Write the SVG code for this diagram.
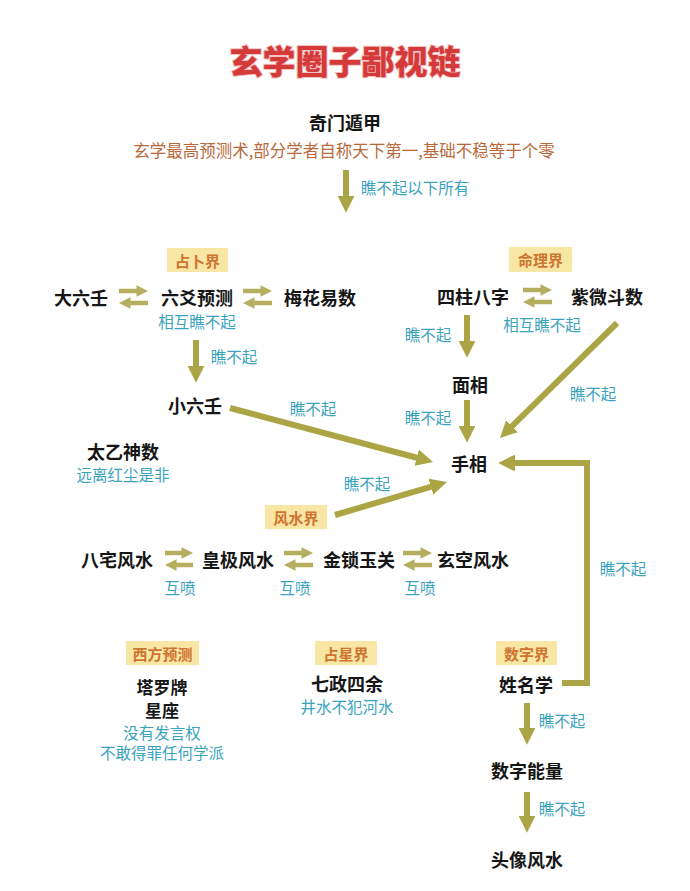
<svg xmlns="http://www.w3.org/2000/svg" width="690" height="891" viewBox="0 0 690 891">
<style>
text{font-family:"Noto Sans CJK SC","Noto Sans",sans-serif;text-anchor:middle;dominant-baseline:central}
.title{font-size:33px;font-weight:900;fill:#d53a3a;stroke:#f2c4c4;stroke-width:2px;paint-order:stroke}
.n{font-size:18px;font-weight:700;fill:#161616}
.s{font-size:17px}
.sub{font-size:16.5px;fill:#b8693a}
.t{font-size:15.5px;fill:#3aa3be}
.c{font-size:15px;font-weight:700;fill:#cf7430}
.box{fill:#f8e6a4}
.a{stroke:#aca546;stroke-width:6;fill:none;marker-end:url(#ah)}
.d{stroke:#b5ae5e;stroke-width:4.5;fill:none;marker-end:url(#dh)}
</style>
<defs>
<marker id="ah" viewBox="0 0 10 10" refX="3" refY="5" markerWidth="2.8" markerHeight="2.8" orient="auto"><path d="M0,0 L10,5 L0,10 z" fill="#aca546"/></marker>
<marker id="dh" viewBox="0 0 10 10" refX="3" refY="5" markerWidth="2.6" markerHeight="2.6" orient="auto"><path d="M0,0 L10,5 L0,10 z" fill="#b5ae5e"/></marker>
</defs>
<rect width="690" height="891" fill="#ffffff"/>
<text class="title" x="345" y="60">玄学圈子鄙视链</text>

<g id="connectors">
<line class="a" x1="346" y1="170" x2="346" y2="201"/>
<line class="a" x1="196" y1="340" x2="196" y2="371"/>
<line class="a" x1="467" y1="315" x2="467" y2="346"/>
<line class="a" x1="467" y1="400" x2="467" y2="431"/>
<line class="a" x1="527" y1="703" x2="527" y2="733"/>
<line class="a" x1="527" y1="792" x2="527" y2="821"/>
<line class="a" x1="230" y1="408" x2="421.6" y2="459"/>
<line class="a" x1="335" y1="515" x2="435.7" y2="485.3"/>
<line class="a" x1="617" y1="323" x2="508.4" y2="429.7"/>
<path class="a" d="M562,683 H587 V463 H510"/>
<line class="d" x1="119" y1="291" x2="140" y2="291"/>
<line class="d" x1="148" y1="303" x2="127" y2="303"/>
<line class="d" x1="243" y1="291" x2="264" y2="291"/>
<line class="d" x1="272" y1="303" x2="251" y2="303"/>
<line class="d" x1="523" y1="290" x2="544" y2="290"/>
<line class="d" x1="552" y1="302" x2="531" y2="302"/>
<line class="d" x1="165" y1="553" x2="185" y2="553"/>
<line class="d" x1="193" y1="565" x2="173" y2="565"/>
<line class="d" x1="284" y1="553" x2="305" y2="553"/>
<line class="d" x1="313" y1="565" x2="292" y2="565"/>
<line class="d" x1="403" y1="553" x2="424" y2="553"/>
<line class="d" x1="432" y1="565" x2="411" y2="565"/>
<text class="t" x="415" y="187">瞧不起以下所有</text>
<text class="t" x="197" y="321">相互瞧不起</text>
<text class="t" x="234" y="356">瞧不起</text>
<text class="t" x="313" y="408">瞧不起</text>
<text class="t" x="542" y="324">相互瞧不起</text>
<text class="t" x="428" y="334">瞧不起</text>
<text class="t" x="428" y="417">瞧不起</text>
<text class="t" x="593" y="393">瞧不起</text>
<text class="t" x="367" y="483">瞧不起</text>
<text class="t" x="623" y="568">瞧不起</text>
<text class="t" x="180" y="587">互喷</text>
<text class="t" x="295" y="587">互喷</text>
<text class="t" x="420" y="587">互喷</text>
<text class="t" x="562" y="720">瞧不起</text>
<text class="t" x="562" y="808">瞧不起</text>
</g>

<g id="qimen"><text class="n" x="345" y="122">奇门遁甲</text><text class="sub" x="344" y="150">玄学最高预测术,部分学者自称天下第一,基础不稳等于个零</text></g>

<g id="cat-zhanbu"><rect class="box" x="167" y="248" width="61" height="24"/><text class="c" x="197.5" y="260">占卜界</text></g>
<g id="cat-mingli"><rect class="box" x="509" y="247" width="63" height="25"/><text class="c" x="540.5" y="259.5">命理界</text></g>
<g id="dalr"><text class="n" x="81" y="297">大六壬</text></g>
<g id="liuyao"><text class="n" x="197" y="297">六爻预测</text></g>
<g id="meihua"><text class="n" x="320" y="297">梅花易数</text></g>
<g id="xiaolr"><text class="n" x="195" y="405">小六壬</text></g>
<g id="taiyi"><text class="n" x="123" y="451">太乙神数</text><text class="t" x="123" y="474">远离红尘是非</text></g>
<g id="sizhu"><text class="n" x="473" y="296">四柱八字</text></g>
<g id="ziwei"><text class="n" x="607" y="296">紫微斗数</text></g>
<g id="mianxiang"><text class="n" x="470" y="384">面相</text></g>
<g id="shouxiang"><text class="n" x="469" y="463">手相</text></g>

<g id="cat-fengshui"><rect class="box" x="265" y="505" width="62" height="24"/><text class="c" x="296" y="517">风水界</text></g>
<g id="bazhai"><text class="n" x="117" y="559">八宅风水</text></g>
<g id="huangji"><text class="n" x="238" y="559">皇极风水</text></g>
<g id="jinsuo"><text class="n" x="359" y="559">金锁玉关</text></g>
<g id="xuankong"><text class="n" x="473" y="559">玄空风水</text></g>

<g id="cat-xifang"><rect class="box" x="126" y="641" width="73" height="24"/><text class="c" x="162.5" y="653">西方预测</text></g>
<g id="taluo"><text class="n s" x="162" y="686">塔罗牌</text><text class="n s" x="162" y="709">星座</text><text class="t" x="162" y="732">没有发言权</text><text class="t" x="162" y="752">不敢得罪任何学派</text></g>
<g id="cat-zhanxing"><rect class="box" x="315" y="641" width="62" height="24"/><text class="c" x="346" y="653">占星界</text></g>
<g id="qizheng"><text class="n" x="347" y="683">七政四余</text><text class="t" x="347" y="706">井水不犯河水</text></g>
<g id="cat-shuzi"><rect class="box" x="496" y="641" width="61" height="24"/><text class="c" x="526.5" y="653">数字界</text></g>
<g id="xingming"><text class="n" x="526" y="684">姓名学</text></g>
<g id="shuzinl"><text class="n" x="527" y="770">数字能量</text></g>
<g id="touxiang"><text class="n" x="527" y="859">头像风水</text></g>
</svg>
